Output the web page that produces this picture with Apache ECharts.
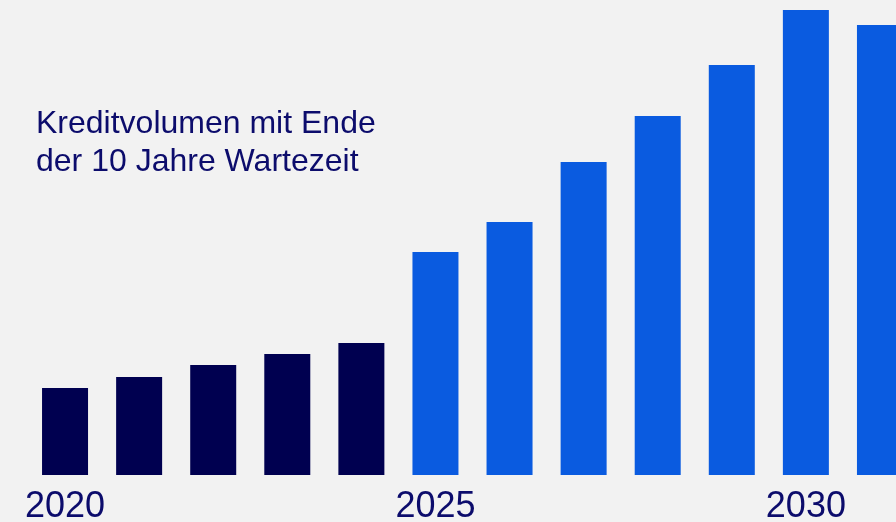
<!DOCTYPE html>
<html>
<head>
<meta charset="utf-8">
<script src="https://cdn.jsdelivr.net/npm/echarts@6/dist/echarts.min.js"></script>
<style>
  html, body { margin: 0; padding: 0; background: #f2f2f2; }
  #chart { width: 896px; height: 522px; }
</style>
</head>
<body>
<div id="chart"></div>
<script>
  // Jahre und Kreditvolumen (relative Einheiten)
  var years = ['2020', '2021', '2022', '2023', '2024', '2025', '2026', '2027', '2028', '2029', '2030', '2031'];
  var creditVolume = [87, 98, 110, 121, 132, 223, 253, 313, 359, 410, 465, 450];
  var titleLines = ['Kreditvolumen mit Ende', 'der 10 Jahre Wartezeit'];

  var myChart = echarts.init(document.getElementById('chart'));

  var option = {
    backgroundColor: '#f2f2f2',
    animation: false,
    title: {
      text: titleLines.join('\n'),
      left: 36,
      top: 105,
      padding: 0,
      textStyle: {
        color: '#0c0c6c',
        fontFamily: 'Liberation Sans, Arial, sans-serif',
        fontSize: 32,
        fontWeight: 'normal',
        lineHeight: 38
      }
    },
    // grid runs past the right edge, last bar is cut off
    grid: {
      left: 28,
      width: 889,
      top: 0,
      bottom: 47,
      outerBoundsMode: 'none'
    },
    xAxis: {
      type: 'category',
      data: years,
      axisLine: { show: false },
      axisTick: { show: false },
      axisLabel: {
        interval: function (index) {
          return index % 5 === 0;
        },
        margin: 14,
        color: '#0c0c6c',
        fontFamily: 'Liberation Sans, Arial, sans-serif',
        fontSize: 36
      }
    },
    yAxis: {
      type: 'value',
      min: 0,
      max: 475,
      show: false,
      splitLine: { show: false }
    },
    series: [{
      type: 'bar',
      data: creditVolume,
      barWidth: 46,
      itemStyle: {
        color: function (p) {
          return p.dataIndex < 5 ? '#000050' : '#0a5be0';
        }
      }
    }]
  };
  myChart.setOption(option);
</script>
</body>
</html>
